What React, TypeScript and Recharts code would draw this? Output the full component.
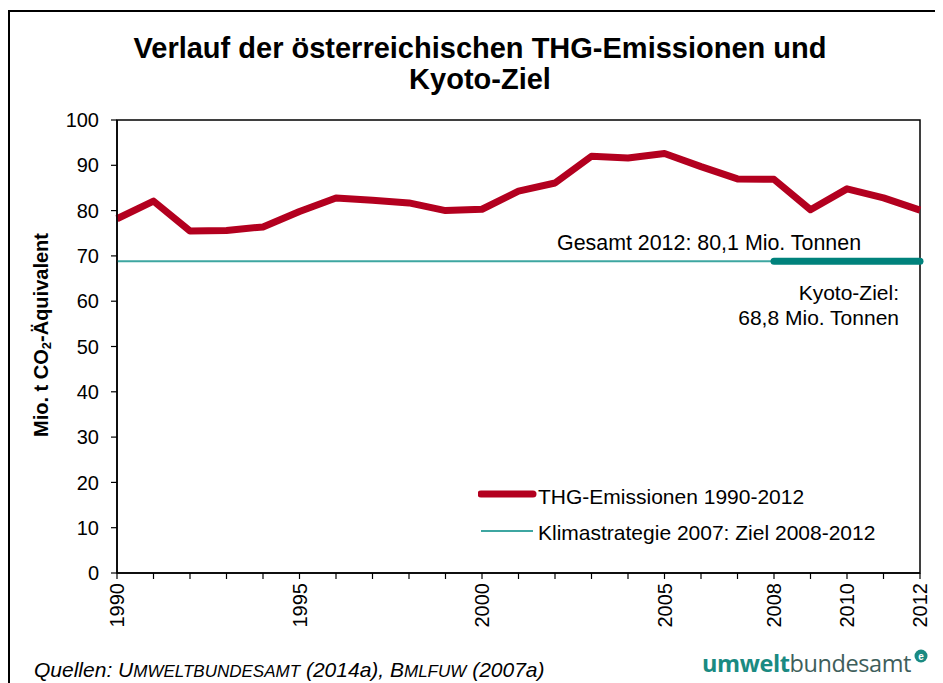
import { Line, LineChart, ReferenceArea, XAxis, YAxis } from "recharts";

const years = [
  1990, 1991, 1992, 1993, 1994, 1995, 1996, 1997, 1998, 1999, 2000, 2001,
  2002, 2003, 2004, 2005, 2006, 2007, 2008, 2009, 2010, 2011, 2012,
];
const emissions = [
  78.2, 82.1, 75.5, 75.6, 76.4, 79.8, 82.8, 82.3, 81.7, 80.0, 80.3, 84.3,
  86.1, 92.0, 91.6, 92.6, 89.7, 87.0, 86.9, 80.2, 84.8, 82.8, 80.1,
];
const kyotoTarget = 68.8;
const kyotoYears = [2008, 2009, 2010, 2011, 2012];
const labelledYears = [1990, 1995, 2000, 2005, 2008, 2010, 2012];
const yTicks = [0, 10, 20, 30, 40, 50, 60, 70, 80, 90, 100];

const red = "#b3001f";
const tealThick = "#00827c";
const tealThin = "#3ea6a1";
const font = "'Liberation Sans', Arial, sans-serif";

const data = years.map((year, i) => ({
  year,
  thg: emissions[i],
  ziel: kyotoTarget,
  kyoto: kyotoYears.includes(year) ? kyotoTarget : null,
}));

function YearTick({ x, y, payload }: any) {
  if (!labelledYears.includes(payload.value)) return null;
  return (
    <text
      x={x}
      y={y}
      transform={`rotate(-90, ${x}, ${y})`}
      textAnchor="end"
      dy="0.36em"
      fill="#000"
      fontSize={20}
      fontFamily={font}
    >
      {payload.value}
    </text>
  );
}

const abs = (style: React.CSSProperties): React.CSSProperties => ({
  position: "absolute",
  fontFamily: font,
  color: "#000",
  whiteSpace: "nowrap",
  lineHeight: 1,
  ...style,
});

// Kapitälchen wie im Original (größer als die synthetischen small-caps)
function SmallCaps({ text }: { text: string }) {
  return (
    <>
      {text[0]}
      <span style={{ fontSize: 17 }}>{text.slice(1).toUpperCase()}</span>
    </>
  );
}

export default function App() {
  return (
    <div style={{ position: "relative", width: 935, height: 675, background: "#fff" }}>
      <div
        style={{
          position: "absolute",
          left: 0,
          top: 2,
          right: -20,
          bottom: -20,
          borderTop: "2px solid #000",
          borderLeft: "2px solid #000",
        }}
      />

      <div
        style={abs({
          left: 0,
          width: 944,
          top: 25,
          textAlign: "center",
          fontSize: 29,
          fontWeight: 700,
          lineHeight: "31px",
        })}
      >
        Verlauf der österreichischen THG-Emissionen und
        <br />
        Kyoto-Ziel
      </div>

      <LineChart
        width={935}
        height={675}
        data={data}
        margin={{ top: 112, right: 23, left: 0, bottom: 0 }}
        style={{ position: "absolute", left: 0, top: 0 }}
      >
        <XAxis
          dataKey="year"
          type="number"
          domain={[1990, 2012]}
          ticks={years}
          interval={0}
          height={110}
          tickSize={6}
          tickMargin={4}
          axisLine={{ stroke: "#000", strokeWidth: 1.5 }}
          tickLine={{ stroke: "#000", strokeWidth: 1.2 }}
          tick={<YearTick />}
        />
        <YAxis
          type="number"
          domain={[0, 100]}
          ticks={yTicks}
          width={109}
          tickSize={6}
          tickMargin={12}
          axisLine={{ stroke: "#000", strokeWidth: 1.5 }}
          tickLine={{ stroke: "#000", strokeWidth: 1.2 }}
          tick={{ fill: "#000", fontSize: 20, fontFamily: font }}
        />
        <ReferenceArea
          x1={1990}
          x2={2012}
          y1={0}
          y2={100}
          fill="none"
          stroke="#000"
          strokeWidth={1.5}
        />
        <Line
          dataKey="ziel"
          stroke={tealThin}
          strokeWidth={2}
          dot={false}
          isAnimationActive={false}
        />
        <Line
          dataKey="kyoto"
          stroke={tealThick}
          strokeWidth={7}
          strokeLinecap="round"
          dot={false}
          isAnimationActive={false}
        />
        <Line
          dataKey="thg"
          stroke={red}
          strokeWidth={7}
          strokeLinejoin="round"
          dot={false}
          isAnimationActive={false}
        />
      </LineChart>

      <div
        style={abs({
          left: 34,
          top: 327,
          fontSize: 20,
          fontWeight: 700,
          transform: "translate(-50%, -50%) rotate(-90deg)",
        })}
      >
        Mio. t CO<sub style={{ fontSize: 13, verticalAlign: "-3px" }}>2</sub>-Äquivalent
      </div>

      <div style={abs({ left: 549, top: 225, fontSize: 21.4 })}>Gesamt 2012: 80,1 Mio. Tonnen</div>
      <div style={abs({ right: 44, top: 272, fontSize: 21, textAlign: "right", lineHeight: "25px" })}>
        Kyoto-Ziel:
        <br />
        68,8 Mio. Tonnen
      </div>

      <svg style={{ position: "absolute", left: 470, top: 478 }} width={60} height={60}>
        <line x1={3} y1={8} x2={55} y2={8} stroke={red} strokeWidth={7} strokeLinecap="round" />
        <line x1={3} y1={45} x2={55} y2={45} stroke={tealThin} strokeWidth={2} />
      </svg>
      <div style={abs({ left: 530, top: 478, fontSize: 21 })}>THG-Emissionen 1990-2012</div>
      <div style={abs({ left: 530, top: 514, fontSize: 21 })}>Klimastrategie 2007: Ziel 2008-2012</div>

      <div style={abs({ left: 26, top: 651, fontSize: 21, fontStyle: "italic" })}>
        Quellen: <SmallCaps text="Umweltbundesamt" /> (2014a), <SmallCaps text="Bmlfuw" /> (2007a)
      </div>

      <div
        style={abs({
          left: 694,
          top: 644,
          fontSize: 23.5,
          fontFamily: "'Open Sans', sans-serif",
          letterSpacing: -0.4,
        })}
      >
        <span style={{ fontWeight: 700, color: "#1a8a82" }}>umwelt</span>
        <span style={{ color: "#3e5e5b" }}>bundesamt</span>
      </div>
      <svg style={{ position: "absolute", left: 906, top: 641 }} width={14} height={14}>
        <circle cx={7} cy={7} r={6.5} fill="#1a8a82" />
        <text x={7} y={10.5} textAnchor="middle" fontSize={10} fontWeight={700} fill="#fff" fontFamily={font}>
          e
        </text>
      </svg>
    </div>
  );
}
